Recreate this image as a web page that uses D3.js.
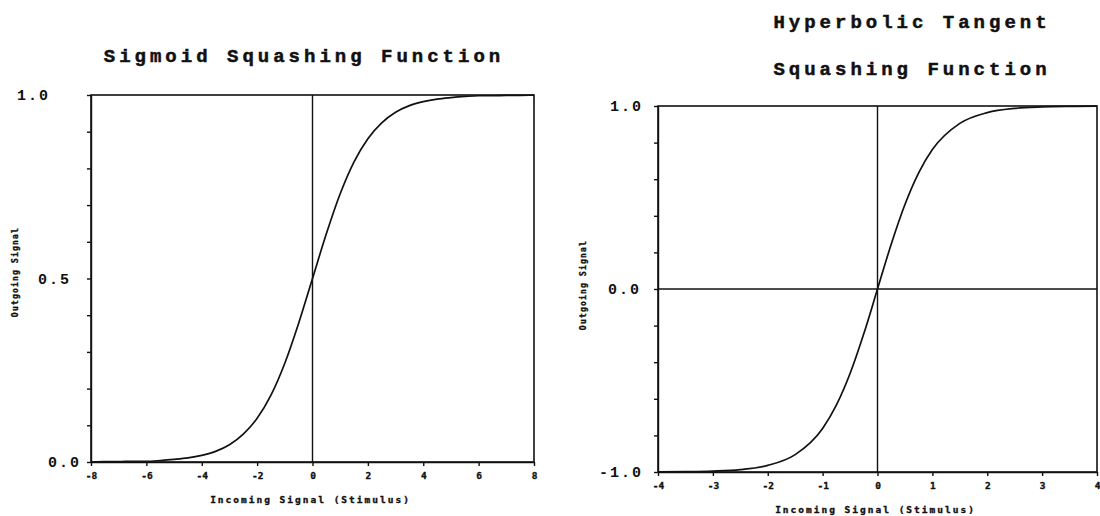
<!DOCTYPE html>
<html>
<head>
<meta charset="utf-8">
<script src="https://cdn.jsdelivr.net/npm/d3@7"></script>
<style>
  html, body { margin: 0; padding: 0; background: #fff; }
  svg { display: block; }
  .title { font-family: "Liberation Mono", monospace; font-weight: bold; font-size: 19px; letter-spacing: 4px; fill: #111; stroke: #111; stroke-width: 0.5px; }
  .ylab { font-family: "Liberation Mono", monospace; font-weight: bold; font-size: 15px; letter-spacing: 2px; fill: #111; }
  .small { font-family: "DejaVu Sans Mono", monospace; font-weight: bold; font-size: 9.5px; fill: #111; stroke: #111; stroke-width: 0.35px; }
  .axis path, .axis line { stroke: #111; stroke-width: 1.4; }
</style>
</head>
<body>
<svg id="chart" width="1100" height="516"></svg>
<script>
// Sigmoid squashing function: incoming signal vs outgoing signal
const sigmoidX = [-8, -7.5, -7, -6.5, -6, -5.5, -5, -4.5, -4, -3.5, -3, -2.5, -2, -1.5, -1, -0.5,
                  0, 0.5, 1, 1.5, 2, 2.5, 3, 3.5, 4, 4.5, 5, 5.5, 6, 6.5, 7, 7.5, 8];
const sigmoidY = [0.000, 0.001, 0.001, 0.002, 0.002, 0.004, 0.007, 0.011, 0.018, 0.029, 0.047, 0.076,
                  0.119, 0.182, 0.269, 0.378, 0.500, 0.622, 0.731, 0.818, 0.881, 0.924, 0.953, 0.971,
                  0.982, 0.989, 0.993, 0.996, 0.998, 0.998, 0.999, 0.999, 1.000];
const sigmoidXTicks = [-8, -6, -4, -2, 0, 2, 4, 6, 8];
const sigmoidYTicks = [0, 0.1, 0.2, 0.3, 0.4, 0.5, 0.6, 0.7, 0.8, 0.9, 1.0];
const sigmoidYLabelValues = [0, 0.5, 1.0];
const sigmoidYLabels = ["0.0", "0.5", "1.0"];

// Hyperbolic tangent squashing function
const tanhX = [-4, -3.5, -3, -2.5, -2, -1.5, -1, -0.75, -0.5, -0.25, 0, 0.25, 0.5, 0.75, 1, 1.5, 2, 2.5, 3, 3.5, 4];
const tanhY = [-0.999, -0.998, -0.995, -0.987, -0.964, -0.905, -0.762, -0.635, -0.462, -0.245, 0,
               0.245, 0.462, 0.635, 0.762, 0.905, 0.964, 0.987, 0.995, 0.998, 0.999];
const tanhXTicks = [-4, -3, -2, -1, 0, 1, 2, 3, 4];
const tanhYTicks = [-1, -0.8, -0.6, -0.4, -0.2, 0, 0.2, 0.4, 0.6, 0.8, 1];
const tanhYLabelValues = [-1, 0, 1];
const tanhYLabels = ["-1.0", "0.0", "1.0"];

const xTitle = "Incoming Signal (Stimulus)";
const yTitle = "Outgoing Signal";

const svg = d3.select("#chart");

function drawPanel(cfg) {
  const x = d3.scaleLinear().domain(cfg.xDomain).range([cfg.left, cfg.right]);
  const y = d3.scaleLinear().domain(cfg.yDomain).range([cfg.bottom, cfg.top]);
  const g = svg.append("g");

  // frame
  g.append("rect")
    .attr("x", cfg.left).attr("y", cfg.top)
    .attr("width", cfg.right - cfg.left).attr("height", cfg.bottom - cfg.top)
    .attr("fill", "none").attr("stroke", "#111").attr("stroke-width", 1.6);

  // axes with short outward ticks
  const xAxis = g.append("g").attr("class", "axis")
    .attr("transform", `translate(0,${cfg.bottom})`)
    .call(d3.axisBottom(x).tickValues(cfg.xTicks).tickSize(4).tickSizeOuter(0).tickPadding(6)
      .tickFormat(d => d3.format("d")(d).replace("−", "-")));
  xAxis.selectAll("text").attr("class", "small").attr("fill", null)
    .style("font-size", "9.5px").attr("dy", "0.71em");
  xAxis.select(".domain").attr("stroke-width", 1.8);

  const yAxis = g.append("g").attr("class", "axis")
    .attr("transform", `translate(${cfg.left},0)`)
    .call(d3.axisLeft(y).tickValues(cfg.yTicks).tickSize(4).tickSizeOuter(0).tickFormat(""));
  yAxis.select(".domain").attr("stroke-width", 1.8);

  // y labels
  cfg.yLabelValues.forEach((v, i) => {
    g.append("text").attr("class", "ylab")
      .attr("x", cfg.left + cfg.yLabelDx[i])
      .attr("y", y(v))
      .attr("dy", "0.35em")
      .attr("text-anchor", "end")
      .text(cfg.yLabels[i]);
  });

  // reference lines through zero
  g.append("line")
    .attr("x1", x(0)).attr("x2", x(0)).attr("y1", cfg.top).attr("y2", cfg.bottom)
    .attr("stroke", "#111").attr("stroke-width", 1.4);
  if (cfg.hZero) {
    g.append("line")
      .attr("x1", cfg.left).attr("x2", cfg.right).attr("y1", y(0)).attr("y2", y(0))
      .attr("stroke", "#111").attr("stroke-width", 1.4);
  }

  // curve
  const pts = cfg.xs.map((d, i) => [d, cfg.ys[i]]);
  g.append("path")
    .datum(pts)
    .attr("fill", "none").attr("stroke", "#111").attr("stroke-width", 1.7)
    .attr("d", d3.line().x(d => x(d[0])).y(d => y(d[1])).curve(d3.curveMonotoneX));

  // titles
  cfg.titles.forEach((t, i) => {
    g.append("text").attr("class", "title")
      .attr("x", cfg.titleX).attr("y", cfg.titleY[i])
      .attr("text-anchor", "middle").text(t);
  });

  g.append("text").attr("class", "small")
    .attr("x", (cfg.left + cfg.right) / 2 - 2).attr("y", cfg.xTitleY)
    .attr("text-anchor", "middle")
    .style("letter-spacing", "2px")
    .text(xTitle);

  g.append("text").attr("class", "small")
    .attr("transform", `translate(${cfg.yTitleX},${cfg.yTitleY}) rotate(-90)`)
    .attr("text-anchor", "middle")
    .style("font-size", "8px")
    .style("letter-spacing", "1.2px")
    .text(yTitle);
}

drawPanel({
  left: 91, right: 534, top: 95, bottom: 462,
  xDomain: [-8, 8], yDomain: [0, 1],
  xTicks: sigmoidXTicks, yTicks: sigmoidYTicks,
  yLabelValues: sigmoidYLabelValues, yLabels: sigmoidYLabels,
  yLabelDx: [-10, -20, -41],
  xs: sigmoidX, ys: sigmoidY,
  hZero: false,
  titles: ["Sigmoid Squashing Function"], titleX: 304, titleY: [62],
  xTitleY: 503, yTitleX: 18, yTitleY: 272
});

drawPanel({
  left: 658, right: 1097, top: 106, bottom: 472,
  xDomain: [-4, 4], yDomain: [-1, 1],
  xTicks: tanhXTicks, yTicks: tanhYTicks,
  yLabelValues: tanhYLabelValues, yLabels: tanhYLabels,
  yLabelDx: [-15, -17, -15],
  xs: tanhX, ys: tanhY,
  hZero: true,
  titles: ["Hyperbolic Tangent", "Squashing Function"], titleX: 912, titleY: [28, 75],
  xTitleY: 513, yTitleX: 586, yTitleY: 285
});
</script>
</body>
</html>
